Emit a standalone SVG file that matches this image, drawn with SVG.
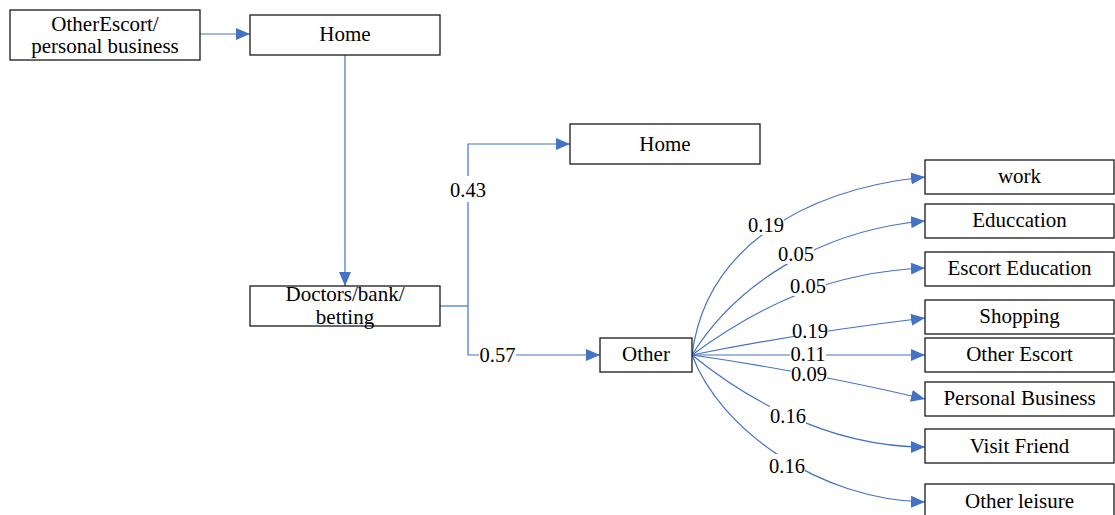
<svg xmlns="http://www.w3.org/2000/svg" width="1115" height="515" viewBox="0 0 1115 515" font-family="Liberation Serif, DejaVu Serif, serif">
  <style>
    .box { fill: #ffffff; stroke: #1a1a1a; stroke-width: 1.3; }
    .lbl { font-size: 21px; fill: #000; text-anchor: middle; }
    .num { font-size: 20.5px; fill: #000; text-anchor: middle; }
    .edge { fill: none; stroke: #4472C4; stroke-width: 1.2; }
    .gap { fill: #ffffff; stroke: none; }
  </style>
  <defs>
    <marker id="arrow" markerUnits="userSpaceOnUse" markerWidth="14" markerHeight="12" refX="14" refY="6" orient="auto">
      <path d="M0,0 L14,6 L0,12 z" fill="#4472C4"/>
    </marker>
  </defs>

  <rect width="1115" height="515" fill="#ffffff"/>

  <!-- connectors -->
  <g id="connectors">
    <path class="edge" d="M200,34 L250,34" marker-end="url(#arrow)"/>
    <path class="edge" d="M345,55 L345,286" marker-end="url(#arrow)"/>
    <path class="edge" d="M440,306 L468,306"/>
    <path class="edge" d="M468,306 L468,144 L570,144" marker-end="url(#arrow)"/>
    <path class="edge" d="M468,306 L468,355 L600,355" marker-end="url(#arrow)"/>

    <!-- fan out of Other -->
    <path class="edge" d="M692,355 C705,250 800,190 925,177" marker-end="url(#arrow)"/>
    <path class="edge" d="M692,355 C735,285 820,230 925,221" marker-end="url(#arrow)"/>
    <path class="edge" d="M692,355 C760,305 830,272 925,268" marker-end="url(#arrow)"/>
    <path class="edge" d="M692,355 Q800,333 925,318" marker-end="url(#arrow)"/>
    <path class="edge" d="M692,355 L925,355" marker-end="url(#arrow)"/>
    <path class="edge" d="M692,355 Q810,372 925,399" marker-end="url(#arrow)"/>
    <path class="edge" d="M692,355 C735,390 820,447 925,447" marker-end="url(#arrow)"/>
    <path class="edge" d="M692,355 C720,430 820,500 925,502" marker-end="url(#arrow)"/>

    <!-- probability labels with knocked-out backgrounds -->
    <g id="edge-labels">
      <rect class="gap" x="450" y="176" width="36" height="26"/>
      <text class="num" x="468" y="197">0.43</text>
      <rect class="gap" x="479" y="343" width="37" height="22"/>
      <text class="num" x="497.5" y="362">0.57</text>

      <rect class="gap" x="748" y="213" width="36" height="22"/>
      <text class="num" x="766" y="232">0.19</text>
      <rect class="gap" x="778" y="242" width="36" height="22"/>
      <text class="num" x="796" y="261">0.05</text>
      <rect class="gap" x="790" y="274" width="36" height="22"/>
      <text class="num" x="808" y="293">0.05</text>
      <rect class="gap" x="792" y="322" width="36" height="14"/>
      <text class="num" x="810" y="338">0.19</text>
      <rect class="gap" x="790" y="344" width="36" height="19"/>
      <text class="num" x="808" y="361">0.11</text>
      <rect class="gap" x="791" y="366" width="36" height="17"/>
      <text class="num" x="809" y="381">0.09</text>
      <rect class="gap" x="770" y="405" width="36" height="22"/>
      <text class="num" x="788" y="423">0.16</text>
      <rect class="gap" x="769" y="454" width="36" height="22"/>
      <text class="num" x="787" y="473">0.16</text>
    </g>
  </g>

  <!-- nodes -->
  <g id="node-origin">
    <rect class="box" x="10" y="10" width="190" height="50"/>
    <text class="lbl" x="105" y="31">OtherEscort/</text>
    <text class="lbl" x="105" y="53">personal business</text>
  </g>
  <g id="node-home-1">
    <rect class="box" x="250" y="15" width="190" height="40"/>
    <text class="lbl" x="345" y="41">Home</text>
  </g>
  <g id="node-doctors">
    <rect class="box" x="250" y="286" width="190" height="40"/>
    <text class="lbl" x="345" y="301">Doctors/bank/</text>
    <text class="lbl" x="345" y="324">betting</text>
  </g>
  <g id="node-home-2">
    <rect class="box" x="570" y="124" width="190" height="40"/>
    <text class="lbl" x="665" y="151">Home</text>
  </g>
  <g id="node-other">
    <rect class="box" x="600" y="338" width="92" height="34"/>
    <text class="lbl" x="646" y="361">Other</text>
  </g>
  <g id="node-work">
    <rect class="box" x="925" y="160" width="189" height="34"/>
    <text class="lbl" x="1019.5" y="183">work</text>
  </g>
  <g id="node-education">
    <rect class="box" x="925" y="204" width="189" height="34"/>
    <text class="lbl" x="1019.5" y="227">Educcation</text>
  </g>
  <g id="node-escort-education">
    <rect class="box" x="925" y="252" width="189" height="34"/>
    <text class="lbl" x="1019.5" y="275">Escort Education</text>
  </g>
  <g id="node-shopping">
    <rect class="box" x="925" y="300" width="189" height="34"/>
    <text class="lbl" x="1019.5" y="323">Shopping</text>
  </g>
  <g id="node-other-escort">
    <rect class="box" x="925" y="338" width="189" height="34"/>
    <text class="lbl" x="1019.5" y="361">Other Escort</text>
  </g>
  <g id="node-personal-business">
    <rect class="box" x="925" y="382" width="189" height="34"/>
    <text class="lbl" x="1019.5" y="405">Personal Business</text>
  </g>
  <g id="node-visit-friend">
    <rect class="box" x="925" y="429" width="189" height="34"/>
    <text class="lbl" x="1019.5" y="453">Visit Friend</text>
  </g>
  <g id="node-other-leisure">
    <rect class="box" x="925" y="484" width="189" height="34"/>
    <text class="lbl" x="1019.5" y="508">Other leisure</text>
  </g>
</svg>
